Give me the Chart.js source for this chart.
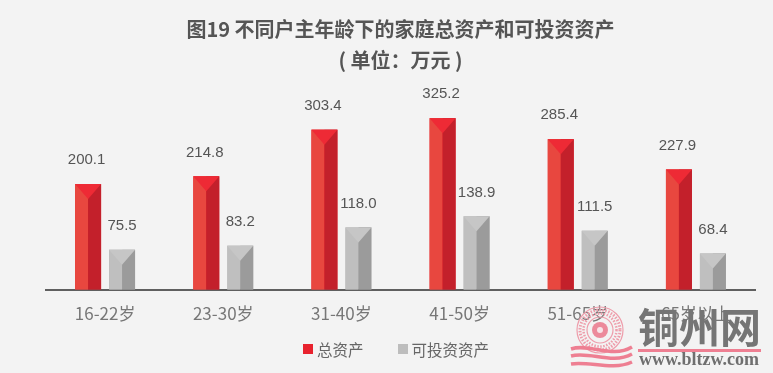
<!DOCTYPE html>
<html>
<head>
<meta charset="utf-8">
<script src="https://cdn.jsdelivr.net/npm/chart.js@4"></script>
<style>
  html, body { margin: 0; padding: 0; background: #f3f3f3; }
  canvas { display: block; }
  #wrap { position: relative; width: 773px; height: 373px; overflow: hidden; }
  #legend { position: absolute; left: 303px; top: 338px; display: flex; font: 15.5px/22px "Noto Sans CJK SC", sans-serif; color: #666666; }
  #legend span { display: flex; align-items: center; margin-right: 34px; white-space: nowrap; }
  #legend i { display: block; width: 10px; height: 10px; margin-right: 4px; }
</style>
</head>
<body>
<div id="wrap">
  <canvas id="chart" width="773" height="373"></canvas>
  <div id="legend"></div>
</div>
<script>
const categories = ['16-22岁', '23-30岁', '31-40岁', '41-50岁', '51-65岁', '65岁以上'];
const totalAssets = [200.1, 214.8, 303.4, 325.2, 285.4, 227.9];
const investableAssets = [75.5, 83.2, 118.0, 138.9, 111.5, 68.4];
const titleLines = ['图19 不同户主年龄下的家庭总资产和可投资资产', '( 单位：万元 )'];

const cjk = '"Noto Sans CJK SC", "Liberation Sans", sans-serif';

// colours for the fake 3d faces on each bar
const faces = [
  { left: '#e8473f', right: '#c3202b', top: '#ee2a35', labelShift: -1.5 },
  { left: '#bfbfbf', right: '#9b9b9b', top: '#c6c6c6', labelShift: 0 }
];

// splits each bar in two halves with a triangle on top, then writes the value
const barFaces = {
  id: 'barFaces',
  afterDatasetsDraw(chart) {
    const ctx = chart.ctx;
    chart.data.datasets.forEach(function (ds, i) {
      chart.getDatasetMeta(i).data.forEach(function (bar, j) {
        const l = bar.x - bar.width / 2;
        const r = bar.x + bar.width / 2;
        ctx.fillStyle = faces[i].left;
        ctx.fillRect(l, bar.y, bar.width / 2, bar.base - bar.y);
        ctx.fillStyle = faces[i].right;
        ctx.fillRect(bar.x, bar.y, bar.width / 2, bar.base - bar.y);
        ctx.fillStyle = faces[i].top;
        ctx.beginPath();
        ctx.moveTo(l, bar.y);
        ctx.lineTo(r, bar.y);
        ctx.lineTo(bar.x, bar.y + 15);
        ctx.closePath();
        ctx.fill();

        ctx.fillStyle = '#555555';
        ctx.font = '15px "Liberation Sans", Arial, sans-serif';
        ctx.textAlign = 'center';
        ctx.textBaseline = 'middle';
        ctx.fillText(ds.data[j].toFixed(1), bar.x + faces[i].labelShift, bar.y - 24);
      });
    });
  }
};

// site stamp in the bottom right corner, sits over the chart
const watermark = {
  id: 'watermark',
  afterDraw(chart) {
    const ctx = chart.ctx;
    ctx.save();
    ctx.strokeStyle = '#ee9dab';
    [[23, 1.2, []], [20, 3, [1.5, 1.5]], [16.5, 2.5, [1.5, 1.5]], [13, 1.2, []]].forEach(function (c) {
      ctx.lineWidth = c[1];
      ctx.setLineDash(c[2]);
      ctx.beginPath();
      ctx.arc(600, 330, c[0], 0, Math.PI * 2);
      ctx.stroke();
    });
    ctx.setLineDash([]);
    ctx.fillStyle = '#ec8a9b';
    ctx.beginPath();
    ctx.arc(600, 330, 8, 0, Math.PI * 2);
    ctx.fill();
    ctx.fillStyle = '#f8e4e8';
    ctx.beginPath();
    ctx.arc(600, 330, 3, 0, Math.PI * 2);
    ctx.fill();
    // waves under the seal
    ctx.strokeStyle = '#ee7f92';
    ctx.lineWidth = 3.5;
    [[349, 6], [356, 5], [364, 3]].forEach(function (w) {
      ctx.beginPath();
      ctx.moveTo(571, w[0]);
      ctx.bezierCurveTo(590, w[0] - w[1], 612, w[0] + w[1] + 4, 632, w[0] - 2);
      ctx.stroke();
    });
    ctx.fillStyle = '#ee7f92';
    ctx.fillRect(638, 349, 123, 3);

    ctx.fillStyle = '#757575';
    ctx.textAlign = 'left';
    ctx.textBaseline = 'middle';
    ctx.font = 'bold 41px "Noto Sans CJK SC", sans-serif';
    ctx.fillText('铜州网', 638, 327);
    ctx.font = 'bold 18px "Liberation Serif", serif';
    ctx.fillStyle = '#6f6f6f';
    ctx.fillText('www.bltzw.com', 639, 360);
    ctx.restore();
  }
};

const chart = new Chart(document.getElementById('chart'), {
  type: 'bar',
  data: {
    labels: categories,
    datasets: [
      { label: '总资产', data: totalAssets, backgroundColor: '#e8222e', categoryPercentage: 0.575, barPercentage: 0.765 },
      { label: '可投资资产', data: investableAssets, backgroundColor: '#bdbdbd', categoryPercentage: 0.575, barPercentage: 0.765 }
    ]
  },
  options: {
    responsive: false,
    animation: false,
    layout: { padding: { left: 46, right: 18, top: 0, bottom: 43 } },
    scales: {
      x: {
        grid: { display: false },
        border: { color: '#5f5f5f', width: 2 },
        ticks: { color: '#777777', font: { family: cjk, size: 17 }, padding: 6, maxRotation: 0 }
      },
      y: { display: false, min: 0, max: 390 }
    },
    plugins: {
      tooltip: { enabled: false },
      title: {
        display: true,
        fullSize: false,
        text: titleLines,
        color: '#555555',
        font: { family: cjk, size: 20, weight: 'bold', lineHeight: 1.55 },
        padding: { top: 14, bottom: 8 }
      },
      legend: { display: false }
    }
  },
  plugins: [barFaces, watermark]
});

// legend is html because the gap between the items is wider than the built in one allows
document.getElementById('legend').innerHTML = chart.data.datasets.map(function (ds) {
  return '<span><i style="background:' + ds.backgroundColor + '"></i>' + ds.label + '</span>';
}).join('');
</script>
</body>
</html>
